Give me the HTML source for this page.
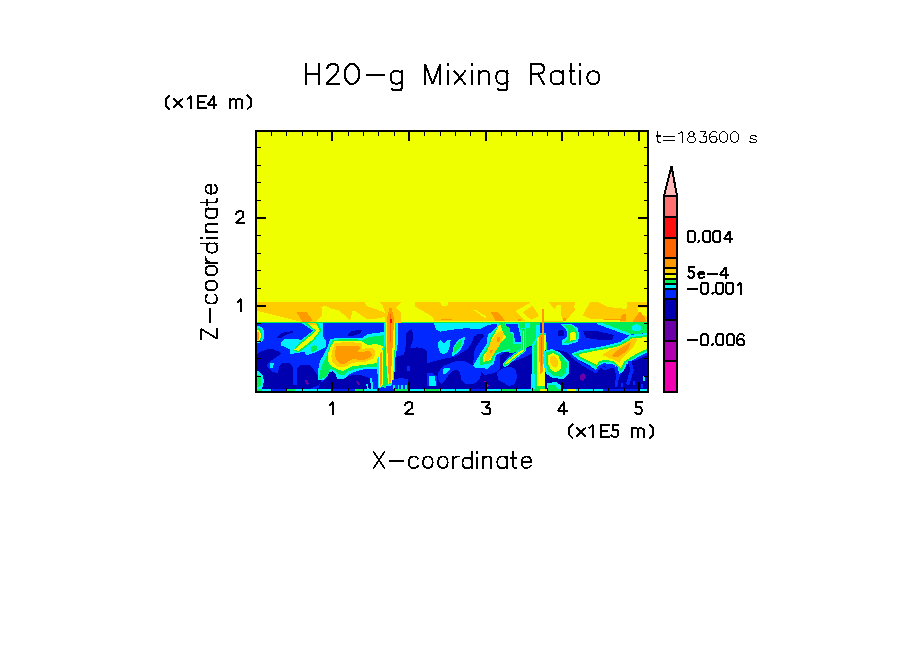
<!DOCTYPE html>
<html><head><meta charset="utf-8"><style>
html,body{margin:0;padding:0;background:#fff;font-family:"Liberation Sans",sans-serif;}
svg{display:block;}
</style></head><body>
<svg width="904" height="654" viewBox="0 0 904 654">
<defs><clipPath id="cp"><rect x="257" y="132" width="390" height="259"/></clipPath></defs>
<rect width="904" height="654" fill="#fff"/>
<g clip-path="url(#cp)" shape-rendering="crispEdges">
<rect fill="#f0ff00" x="257" y="132" width="390" height="259"/>
<rect fill="#ffcc00" x="257" y="302" width="390" height="20.5"/>
<polygon fill="#f0ff00" points="257,310.7 301.5,321.8 301.5,322.5 257,322.5"/>
<polygon fill="#f0ff00" points="316,322.5 317,320 322.5,315.7 321.4,306.8 325.8,305.7 332.4,309 339,310.2 350,320.7 352.3,311.3 355,311 366,318.5 377,318.5 385,317 385,322.5"/>
<polygon fill="#f0ff00" points="355,314.5 366,318.5 355,322.5"/>
<polygon fill="#f0ff00" points="365,302 380,302 383,306 392,310 393.7,302 414.7,302 414.7,306.3 421.4,310.2 432.4,316.8 434.6,320.7 455,320.7 455,322.5 393.7,322.5 393.7,310 385,313 377,309.5 366,306"/>
<polygon fill="#f0ff00" points="440,302 448.6,302 447,305.7 442,305.7"/>
<polygon fill="#f0ff00" points="455,320.7 532,321 532,322.5 455,322.5"/>
<polygon fill="#f0ff00" points="473.8,310 476,310 487,317 485,318"/>
<polygon fill="#f0ff00" points="515.3,311.3 531.3,302 550,302 554.4,309 557.7,304.6 561,305.2 560.5,312.4 563.3,321.2 525.8,321.8 520,316"/>
<polygon fill="#ffcc00" points="522.5,312.4 532.4,305.7 539,315.7 531.3,320"/>
<polygon fill="#ffcc00" points="549,302 554,302 553,308"/>
<polygon fill="#f0ff00" points="563.3,321.2 566.6,320.1 574.9,310.2 574.3,306.3 575,302 589.8,302 589.8,302.4 583.2,314.6 583.2,315.7 589.8,318.5 604.2,319.6 620.8,320.1 620,322.5 563,322.5"/>
<polygon fill="#f0ff00" points="597.6,302 627.4,302 626.3,309 607.5,306.8"/>
<polygon fill="#f0ff00" points="637,308 646.5,308 646.5,315.7 640,315"/>
<polygon fill="#ff9900" points="296.5,312.4 307,312.4 312.5,320.1 309.2,321.8 302.6,321.8"/>
<polygon fill="#ff9900" points="490.4,312 497,312 500,314 505,320.5 495,320.5 493,316"/>
<polygon fill="#ff9900" points="441.3,318.5 452.3,318.5 452.3,319.8 441.3,319.8"/>
<polygon fill="#ff9900" points="619.7,321.2 622,315 626.3,313.5 626.3,321.2"/>
<polygon fill="#ff9900" points="632,322.3 640,311 645,318 646,322.3"/>
<polygon fill="#ff9900" points="604,319 620,319 620,320.3 604,320.3"/>
<polygon fill="#ff9900" points="562.7,318 566,318 566,321 562.7,321"/>
<polygon fill="#ff9900" points="518,319 521.4,319 521.4,321 518,321"/>
<rect fill="#0028ff" x="257" y="322.5" width="390" height="68.5"/>
<rect fill="#00ee55" x="257" y="322.3" width="390" height="1.1"/>
<polygon fill="#0000b0" points="257,354 262,351 267,349.5 273,349.3 279,351.5 281,354 276,357.5 270,361 267,364 267,367 271,371 278,373.5 279,366 282,363 287,362.5 291,364 293,368 293.5,385 296.5,385 297,368 299,366 303,364.5 309,365 313,368 316,373 321,380 322,383 317,386 310,389 257,389"/>
<polygon fill="#0000b0" points="277,337.5 280,334 285,332 293,331.2 293.5,332.5 287,334.5 281,337.8"/>
<polygon fill="#0000b0" points="348,334 352,331 358,330 362,330.5 360,333.5 353,336 348,336.5"/>
<polygon fill="#0000b0" points="393,360 398,356 404,355 406,345 406.5,333 409,330 412,329 413,335 412.5,341 410,348.5 410,389 393,389"/>
<polygon fill="#0028ff" points="406.7,366 410,366 410,371 406.7,371"/>
<ellipse fill="#00f0ff" cx="258.5" cy="334.5" rx="6" ry="8.5" transform="rotate(0 258.5 334.5)"/>
<ellipse fill="#00ee55" cx="258" cy="335" rx="4.5" ry="7.3" transform="rotate(0 258 335)"/>
<ellipse fill="#f0ff00" cx="257.5" cy="335.5" rx="3.5" ry="6" transform="rotate(0 257.5 335.5)"/>
<ellipse fill="#ff9900" cx="257" cy="336" rx="2.2" ry="4.5" transform="rotate(0 257 336)"/>
<polygon fill="#00f0ff" points="300.5,322.5 322.5,322.5 322.9,335 323.6,337 326,341 326,346 324,348 317,351.7 306.3,355.3 304.6,351.7 289.5,354.4 289.5,349 281.5,345.5 281,342 284,339.5 297.5,339 301.2,340 312.8,330.7"/>
<polygon fill="#00ee55" points="303.5,322.5 318,322.5 321.5,330.7 313.5,341.5 305,348 299,352.5 293,350.5 299.5,342.5 303.5,339.5 314.2,330.7"/>
<polygon fill="#f0ff00" points="306.5,322.5 316,322.5 319.8,330.7 312.4,340 304,346.5 298,351 294.5,349.5 301,343.5 305.8,340 315.9,330.7"/>
<polygon fill="#ffcc00" points="307,322.5 315.5,322.5 316.8,325 310,325.5"/>
<ellipse fill="#00ee55" cx="314" cy="348.6" rx="3.5" ry="2.8" transform="rotate(-30 314 348.6)"/>
<polygon fill="#00f0ff" points="270,363.5 274,363 273,368 270.5,368"/>
<polygon fill="#00f0ff" points="257,371 260,372 263,376 264,381 263,386 262,389 257,389"/>
<polygon fill="#00ee55" points="257,375 260,376 261.5,380 261,386 257,387"/>
<polygon fill="#00f0ff" points="330,339 337,338 345,337.5 355,337.5 362,338 368,334 376,333 384,332 386,345 385,360 383,370 375,369 365,369 357,371 350,374 344.5,378.5 336.8,378.5 336,374.5 331,371.5 328,376 323,380 318,380.5 318,370 320.2,360 323.5,355.3 328,346"/>
<polygon fill="#00ee55" points="332.5,339.8 338,339.5 346,339.2 355,339.2 362,340 369,337 377,336 384,335 385,346 384,359 381,367 374,366.5 365,367 356,369 349,371 344.5,375.2 339,375 336,371 330,369 328,374 324,378 318.5,379.7 320,372 323,363 326,357.5 330,345"/>
<polygon fill="#f0ff00" points="334,341.2 340,340.7 350,340.5 362,341.5 368,345 376,344 383,346 384,358 380,362 372,364 362,365 352,366.5 346,369.5 342.3,371 337,369 331,366 328,361 328.5,352 331,346"/>
<polygon fill="#ffcc00" points="335,342.8 345,342.3 352,342.3 361,343 362.5,347 361,350 365,348.5 373,348 375.5,352 374,358 366,361.5 357,362 352,363 347,366 342,367.5 337,366.5 332.5,362 331.3,356 333,348"/>
<polygon fill="#ff9900" points="336.5,346 345,345.5 352,345.5 359,346 360,348 357,352.5 361,352 365,351.5 368,351 371,352 372,355 370,358 365,359.5 357,359.5 352.3,359.2 349,360.8 344.5,364.2 340.1,363.6 336.3,360.3 335.3,356 335.5,350"/>
<polygon fill="#0000b0" points="329,372.5 333,371 336,374.5 336.8,378.5 344.5,378.5 349.2,376 352,375 360,375 369.8,378 372,386.7 375,389 318,389 320,384 324,380 328,376"/>
<polygon fill="#00f0ff" points="384,322.5 398.5,322.5 397.5,345 395,360 394,385 378,388 377,360 384,345"/>
<polygon fill="#00ee55" points="385.5,322.5 396.5,322.5 395.5,345 393.5,370 393,383 379,387 378.5,360 385.5,345"/>
<polygon fill="#ffcc00" points="380,302 401.5,302 396,308 401.5,312.4 401,322.5 385,322.5 385,312 383,306"/>
<polygon fill="#f0ff00" points="386,322.5 395.5,322.5 395,340 393,382 388,384 386,360"/>
<polygon fill="#ff9900" points="389.5,308 391.5,308 393.5,316 394,322.5 393.5,330 391.8,360 390.8,382 389,383 387.8,360 387,340 386.8,322.5 387.5,316"/>
<polygon fill="#ff6600" points="389.8,314 391.5,314 391.3,338 390,345"/>
<polygon fill="#ff1010" points="390,319 392,319 392,322.5 390,322.5"/>
<polygon fill="#f0ff00" points="378.5,351 383,350 382.5,386 379,387"/>
<polygon fill="#ff9900" points="379.5,353 381.8,352 381.5,385 380,386"/>
<polygon fill="#00f0ff" points="433.8,322.5 497,322.5 497,324 488,324.8 480,329.3 466.6,328.2 455.2,329.3 440.5,331.6 436,329.3"/>
<polygon fill="#0000b0" points="410,348.5 416.8,347.4 422.4,348 427,350.8 427,389 410,389"/>
<polygon fill="#0000b0" points="427,363.2 444,358.7 451,357.5 455,356.5 462,352.5 468,348.5 471,344 473,339.5 474,336.5 477,334.5 482,333.5 484,336 480,341 476.5,346 474,352 473.7,358 473,364 470,367 464,367 460,366 455.2,362.1 444,365.5 438,368 432,370 427,372"/>
<polygon fill="#0000b0" points="427,372 432,370 438,368 444,365.5 455,361.5 464,361 473,364 478,362 484,360 490,360 497,358 505,352 510,351 520,349 530,346 536,344 545,344 545,389 427,389"/>
<polygon fill="#0028ff" points="438.3,380 438.3,372 444,365.5 455,361.5 464,361 468,363 476,366.5 480,367 481.5,372 480,378 476,383 470,384.5 465,384 461.5,380 460,373 457,369.5 452,371 448,376 444,382 441,384"/>
<polygon fill="#0028ff" points="476,366 481,360 487,358 494,357 500,355 500,368 496,372 490,374 484,375 481,372"/>
<polygon fill="#0028ff" points="536,345 538,350 527,356 519,359.5 511,362 505,364 503.8,362 508,356 513,353 521,350 530,347"/>
<polygon fill="#0028ff" points="497,372 502,369 507,367 512,367.5 516,370 517,377 515,384 509,386 504,383 498,380"/>
<polygon fill="#00f0ff" points="438.3,342 441,340 444,343.5 447,340 450.7,339.5 450,346 447.5,352 444,354.2 440.5,353 438.5,348"/>
<polygon fill="#00f0ff" points="451.9,356.5 453,348 457,341 462,338 465.4,336.1 464,343 461,349 456,354"/>
<polygon fill="#00ee55" points="453.5,354 454.5,347 458,342 462,339.5 461,346 457,351"/>
<polygon fill="#00f0ff" points="442.8,369 446,367.5 450.7,367.8 448,372 445,374.6 442.8,373"/>
<polygon fill="#0028ff" points="427,373.4 432,373 437,376 437,386 427,386"/>
<polygon fill="#00f0ff" points="428.5,376 435,376 436,386 429,386"/>
<polygon fill="#00ee55" points="497,323.4 540,323.4 540,347 530,346 521,350 513,353 505,352 497,352"/>
<polygon fill="#00f0ff" points="524.5,323.4 530,323.4 530,327.6 525.2,327.6"/>
<polygon fill="#00f0ff" points="535.5,324.6 540,324.6 540,345.2 535.9,345.2"/>
<polygon fill="#00f0ff" points="504.5,323.4 519,323.4 520.5,330 523.5,343.5 513.5,343.5 512.5,334 504.5,331.5"/>
<polygon fill="#0028ff" points="506,323.8 517.5,323.8 519,330 522,342 515,342 514,333 506,330"/>
<polyline fill="none" stroke="#00f0ff" stroke-width="5" stroke-linejoin="round" stroke-linecap="round" points="523.5,330 523.5,350 515,356 505.3,364.3"/>
<polyline fill="none" stroke="#00ee55" stroke-width="3.2" stroke-linejoin="round" stroke-linecap="round" points="523.5,330 523.5,350 515,356 505.3,364.3"/>
<polyline fill="none" stroke="#f0ff00" stroke-width="1.8" stroke-linejoin="round" stroke-linecap="round" points="523.5,331.5 523.5,350 515,356 506,363.5"/>
<polygon fill="#00f0ff" points="497,323.4 503.7,323.4 506,326 510,330 510,351.1 502,351.9 496.1,355.3 493.6,363.7 487.7,368.7 475.1,367.9 473.4,365.4 479.3,355.3 486.9,343.5 487.7,335.1 497,326.7"/>
<polygon fill="#00ee55" points="499,323.4 503,323.4 510,328.4 510,348.6 503.7,350.3 495.3,353.6 491.9,362.9 480.2,365.4 480.2,357.8 488.6,345.2 490.3,336.8 497,328"/>
<polygon fill="#f0ff00" points="500.3,324 502,330.1 506.2,337.6 503.7,339.3 497,347.7 490.3,360.3 482.7,362 482.7,357 489.4,347.7 491.1,339.3 496,331 499,325"/>
<polygon fill="#ffcc00" points="491,341 497,333 501.5,330.5 504,334 502,341 497,349 492,357 486.5,361.5 484.5,360 487,351"/>
<polygon fill="#ff9900" points="496.5,336.5 500,337 499.5,341.5 497,342"/>
<polygon fill="#ff9900" points="490.3,349.5 492.8,350 492,352.8 490,352.5"/>
<polygon fill="#00f0ff" points="532,345 539,333 547,333 548,389 532,389"/>
<polygon fill="#00ee55" points="534,346 539.5,334 546.5,334 546.5,389 534.5,389"/>
<polygon fill="#f0ff00" points="536.5,340 539.5,335 546,335 545.5,386 537,386"/>
<polygon fill="#ff9900" points="538.5,335 544,335 543.5,355 543,372 540,374 539.2,355"/>
<polygon fill="#ff6600" points="540.5,337 542.5,337 542,366 541,366"/>
<polygon fill="#ff9900" points="541.8,309 543.6,309 543.6,336 541.8,336"/>
<polygon fill="#0000b0" points="545,350 558,350 566,352 571,356 578,359 578,389 545,389"/>
<polygon fill="#0028ff" points="545.6,322.5 559,322.5 561,326 566,330 567,336 561,340 555,344.5 548,346 545.6,340"/>
<ellipse fill="#0000b0" cx="561" cy="333.2" rx="3.5" ry="3" transform="rotate(0 561 333.2)"/>
<polygon fill="#00f0ff" points="561,324 571,323.5 577.5,328 579.5,336 577.5,342 569,344.5 562,344.5 562,340.5 566.5,337 566.5,330.5"/>
<polygon fill="#00ee55" points="564,325 571,324.8 576,329 578,336 576,340.5 569,342.8 564,342.5 568.3,338 568.3,330"/>
<polygon fill="#f0ff00" points="570,332.7 574.5,331.5 576.5,335 575.5,340 570.5,340.6"/>
<polygon fill="#00f0ff" points="544,351 552,349 561,353 569,362 569,374 563,379 553,378 546,374 543,362"/>
<polygon fill="#00ee55" points="545.6,352 553.5,350.8 561.4,355.3 567.1,363.2 566,372.3 561.4,376.8 553.5,375.7 547.9,371.2 545.6,363.2"/>
<polygon fill="#f0ff00" points="547.9,355.3 553.5,353 558,355.3 561.4,363.2 560.3,370 554.7,372.3 550.1,368.9 547.9,363.2"/>
<polygon fill="#ffcc00" points="550,357 554,355.5 557,358 558.5,364 556,368 552,366 550,362"/>
<polygon fill="#0000b0" points="583,331 595,330.5 614,335 612,340 600,340 586,338"/>
<polygon fill="#00ee55" points="599,322.5 647,322.5 647,333 631,334.5"/>
<polygon fill="#00f0ff" points="596,322.5 601,322.5 631.5,334 630,336 598,324.5"/>
<ellipse fill="#00f0ff" cx="636.5" cy="327.8" rx="4.5" ry="3.5" transform="rotate(0 636.5 327.8)"/>
<polygon fill="#0000b0" points="578,359 596.5,371 601,366 614,367.8 618.9,378 623.4,370 630.2,362 637,359.8 647,355.3 647,389 578,389"/>
<polygon fill="#00f0ff" points="571,354 578.8,350.5 596.5,347.4 609.8,344.7 619.6,342.1 626.6,337.7 630.2,335 647,333 647,352.7 639,356.2 635.5,358.9 632,360.7 626.6,364.2 623.1,372.2 619.6,373.9 617.8,368.6 612.5,364.2 603.6,363.3 600,365.1 596.5,370.4 587.7,364.2 578.8,359.8"/>
<polygon fill="#00ee55" points="574,354.3 580,352 597,349 610.5,346.3 620.5,343.7 627.5,339.5 631,337 647,335 647,351 638.5,354.7 635,357.3 631,359.3 625.3,363 622,370 620,371 618.8,367.5 613,362.6 603.6,361.7 599.5,363.3 596.5,367.7 588.5,362.5 580,358.3"/>
<polygon fill="#f0ff00" points="578,354.8 582,353.5 597.5,350.5 611,348 621,345.3 628,341 632,338.5 647,337 647,349 637.5,353 634,355.5 630,357.5 624,361.5 621,367.5 619.8,368 619,366 613.5,361 603.6,360 599,361.5 596.5,365 589.5,361 581,357"/>
<polygon fill="#ffcc00" points="602,355 610,350 620,346.5 628,341 634,337.7 637.3,339 634,346 628,352 622,358 619.5,363 615,360.5 608,357.5"/>
<polygon fill="#ff9900" points="611.6,355.4 618,350 625,345.5 631,342 629,348 624,353 619,356.5 614,357.5"/>
<polyline fill="none" stroke="#0028ff" stroke-width="2.5" stroke-linejoin="round" stroke-linecap="round" points="572,356.5 583,364.5 596,372 600,366 605,369 614,366"/>
<polyline fill="none" stroke="#0028ff" stroke-width="3" stroke-linejoin="round" stroke-linecap="round" points="616.5,368 617.5,377 616,386"/>
<polyline fill="none" stroke="#0028ff" stroke-width="3.5" stroke-linejoin="round" stroke-linecap="round" points="630,362.5 632,370 628,383"/>
<polygon fill="#6c00a8" points="579.7,375 584,373 586,377 583,381 580,380"/>
<polygon fill="#6c00a8" points="304.6,380 307,380.5 309,384 307.5,385 305.5,382"/>
<polygon fill="#6c00a8" points="356,381 358,381 360,384.5 358,384.5"/>
<polygon fill="#b000b0" points="484,381 486,381 489,386 487,387"/>
<polyline fill="none" stroke="#00f0ff" stroke-width="2" stroke-linejoin="round" stroke-linecap="round" points="371,379 372.5,389"/>
<polyline fill="none" stroke="#00f0ff" stroke-width="1.5" stroke-linejoin="round" stroke-linecap="round" points="367,385 368,389"/>
<polygon fill="#0028ff" points="392,380 400,378 408,379 410,389 392,389"/>
<rect fill="#00f0ff" x="393" y="384.5" width="1.6" height="4.8"/>
<rect fill="#00f0ff" x="397.5" y="384.5" width="1.6" height="4.8"/>
<rect fill="#00f0ff" x="401" y="384.5" width="1.6" height="4.8"/>
<rect fill="#00f0ff" x="405" y="384.5" width="1.6" height="4.8"/>
<rect fill="#00ee55" x="384" y="362" width="1.5" height="26"/>
<rect fill="#00f0ff" x="531" y="374" width="1.5" height="15.3"/>
<rect fill="#00f0ff" x="533.5" y="374" width="1.5" height="15.3"/>
<rect fill="#00ee55" x="535" y="380" width="1.5" height="9.3"/>
<rect fill="#0028ff" x="621" y="383" width="1.5" height="4"/>
<rect fill="#0028ff" x="633" y="381" width="1.5" height="4"/>
<rect fill="#0028ff" x="641" y="384" width="1.5" height="4"/>
<rect fill="#00f0ff" x="643" y="376" width="2" height="5"/>
<polygon fill="#00f0ff" points="547,383 556,382 561,385 561,389.3 547,389.3"/>
<polygon fill="#00ee55" points="548,385.5 555,384.5 558,389.3 548,389.3"/>
<rect fill="#00ee55" x="257" y="389.3" width="5" height="1.7"/>
<rect fill="#00f0ff" x="262" y="389.3" width="10" height="1.7"/>
<rect fill="#0028ff" x="272" y="389.3" width="15" height="1.7"/>
<rect fill="#00ee55" x="287" y="389.3" width="8" height="1.7"/>
<rect fill="#00f0ff" x="295" y="389.3" width="36" height="1.7"/>
<rect fill="#0028ff" x="331" y="389.3" width="24" height="1.7"/>
<rect fill="#00ee55" x="355" y="389.3" width="8" height="1.7"/>
<rect fill="#00f0ff" x="363" y="389.3" width="14" height="1.7"/>
<rect fill="#0028ff" x="377" y="389.3" width="18" height="1.7"/>
<rect fill="#00ee55" x="395" y="389.3" width="13" height="1.7"/>
<rect fill="#00f0ff" x="408" y="389.3" width="16" height="1.7"/>
<rect fill="#00ee55" x="424" y="389.3" width="15" height="1.7"/>
<rect fill="#00f0ff" x="439" y="389.3" width="16" height="1.7"/>
<rect fill="#00f0ff" x="455" y="389.3" width="14" height="1.7"/>
<rect fill="#0028ff" x="469" y="389.3" width="18" height="1.7"/>
<rect fill="#00f0ff" x="487" y="389.3" width="14.5" height="1.7"/>
<rect fill="#00ee55" x="501.5" y="389.3" width="15.5" height="1.7"/>
<rect fill="#00f0ff" x="517" y="389.3" width="15" height="1.7"/>
<rect fill="#00ee55" x="532" y="389.3" width="8" height="1.7"/>
<rect fill="#f0ff00" x="540" y="389.3" width="7" height="1.7"/>
<rect fill="#00ee55" x="547" y="389.3" width="14" height="1.7"/>
<rect fill="#00f0ff" x="561" y="389.3" width="6" height="1.7"/>
<rect fill="#f0ff00" x="567" y="389.3" width="9" height="1.7"/>
<rect fill="#00f0ff" x="576" y="389.3" width="27" height="1.7"/>
<rect fill="#0028ff" x="603" y="389.3" width="36" height="1.7"/>
<rect fill="#00f0ff" x="639" y="389.3" width="8" height="1.7"/>
</g>
<g fill="#000" shape-rendering="crispEdges">
<rect x="255" y="130" width="394" height="2"/>
<rect x="255" y="391" width="394" height="2"/>
<rect x="255" y="130" width="2" height="263"/>
<rect x="647" y="130" width="2" height="263"/>
<rect x="331" y="132" width="2" height="9"/>
<rect x="331" y="382" width="2" height="9"/>
<rect x="408" y="132" width="2" height="9"/>
<rect x="408" y="382" width="2" height="9"/>
<rect x="485" y="132" width="2" height="9"/>
<rect x="485" y="382" width="2" height="9"/>
<rect x="561" y="132" width="2" height="9"/>
<rect x="561" y="382" width="2" height="9"/>
<rect x="638" y="132" width="2" height="9"/>
<rect x="638" y="382" width="2" height="9"/>
<rect x="271" y="132" width="1" height="4"/>
<rect x="271" y="388" width="1" height="3"/>
<rect x="286" y="132" width="1" height="4"/>
<rect x="286" y="388" width="1" height="3"/>
<rect x="302" y="132" width="1" height="4"/>
<rect x="302" y="388" width="1" height="3"/>
<rect x="317" y="132" width="1" height="4"/>
<rect x="317" y="388" width="1" height="3"/>
<rect x="348" y="132" width="1" height="4"/>
<rect x="348" y="388" width="1" height="3"/>
<rect x="363" y="132" width="1" height="4"/>
<rect x="363" y="388" width="1" height="3"/>
<rect x="378" y="132" width="1" height="4"/>
<rect x="378" y="388" width="1" height="3"/>
<rect x="394" y="132" width="1" height="4"/>
<rect x="394" y="388" width="1" height="3"/>
<rect x="424" y="132" width="1" height="4"/>
<rect x="424" y="388" width="1" height="3"/>
<rect x="440" y="132" width="1" height="4"/>
<rect x="440" y="388" width="1" height="3"/>
<rect x="455" y="132" width="1" height="4"/>
<rect x="455" y="388" width="1" height="3"/>
<rect x="470" y="132" width="1" height="4"/>
<rect x="470" y="388" width="1" height="3"/>
<rect x="501" y="132" width="1" height="4"/>
<rect x="501" y="388" width="1" height="3"/>
<rect x="516" y="132" width="1" height="4"/>
<rect x="516" y="388" width="1" height="3"/>
<rect x="532" y="132" width="1" height="4"/>
<rect x="532" y="388" width="1" height="3"/>
<rect x="547" y="132" width="1" height="4"/>
<rect x="547" y="388" width="1" height="3"/>
<rect x="578" y="132" width="1" height="4"/>
<rect x="578" y="388" width="1" height="3"/>
<rect x="593" y="132" width="1" height="4"/>
<rect x="593" y="388" width="1" height="3"/>
<rect x="608" y="132" width="1" height="4"/>
<rect x="608" y="388" width="1" height="3"/>
<rect x="624" y="132" width="1" height="4"/>
<rect x="624" y="388" width="1" height="3"/>
<rect x="257" y="305" width="9" height="2"/>
<rect x="638" y="305" width="9" height="2"/>
<rect x="257" y="217" width="9" height="2"/>
<rect x="638" y="217" width="9" height="2"/>
<rect x="257" y="147" width="4" height="1"/>
<rect x="644" y="147" width="3" height="1"/>
<rect x="257" y="165" width="4" height="1"/>
<rect x="644" y="165" width="3" height="1"/>
<rect x="257" y="182" width="4" height="1"/>
<rect x="644" y="182" width="3" height="1"/>
<rect x="257" y="200" width="4" height="1"/>
<rect x="644" y="200" width="3" height="1"/>
<rect x="257" y="235" width="4" height="1"/>
<rect x="644" y="235" width="3" height="1"/>
<rect x="257" y="253" width="4" height="1"/>
<rect x="644" y="253" width="3" height="1"/>
<rect x="257" y="270" width="4" height="1"/>
<rect x="644" y="270" width="3" height="1"/>
<rect x="257" y="288" width="4" height="1"/>
<rect x="644" y="288" width="3" height="1"/>
<rect x="257" y="323" width="4" height="1"/>
<rect x="644" y="323" width="3" height="1"/>
<rect x="257" y="341" width="4" height="1"/>
<rect x="644" y="341" width="3" height="1"/>
<rect x="257" y="358" width="4" height="1"/>
<rect x="644" y="358" width="3" height="1"/>
<rect x="257" y="376" width="4" height="1"/>
<rect x="644" y="376" width="3" height="1"/>
</g>
<g shape-rendering="crispEdges"><rect x="663" y="195" width="15" height="198" fill="#000"/>
<rect x="665" y="197" width="11" height="19" fill="#ff7070"/>
<rect x="665" y="218" width="11" height="19" fill="#ff1010"/>
<rect x="665" y="239" width="11" height="18" fill="#ff6600"/>
<rect x="665" y="259" width="11" height="8" fill="#ff9900"/>
<rect x="665" y="269" width="11" height="4" fill="#ffcc00"/>
<rect x="665" y="275" width="11" height="3" fill="#f0ff00"/>
<rect x="665" y="280" width="11" height="3" fill="#00ee55"/>
<rect x="665" y="285" width="11" height="3" fill="#00f0ff"/>
<rect x="665" y="290" width="11" height="8" fill="#0028ff"/>
<rect x="665" y="300" width="11" height="19" fill="#0000b0"/>
<rect x="665" y="321" width="11" height="19" fill="#6c00a8"/>
<rect x="665" y="342" width="11" height="18" fill="#b000b0"/>
<rect x="665" y="362" width="11" height="29" fill="#f000b0"/>
<polygon points="664,196 671.5,166 677,196" fill="#ffb8b8" stroke="#000" stroke-width="2" stroke-linejoin="miter" stroke-miterlimit="3"/></g>
<g fill="none" stroke="#000" stroke-width="2" stroke-linecap="square" stroke-linejoin="miter" stroke-miterlimit="2" shape-rendering="crispEdges" ><path vector-effect="non-scaling-stroke" transform="translate(306.3,64) scale(0.2)" d="M0 0V100M63 0V100M0 50H63"/><path vector-effect="non-scaling-stroke" transform="translate(326.2,64) scale(0.2)" d="M5 22C8 8 18 0 32 0C50 0 61 9 61 24C61 34 56 41 49 48L0 100H64"/><path vector-effect="non-scaling-stroke" transform="translate(344.8,64) scale(0.2)" d="M36 0C58 0 72 22 72 50C72 78 58 100 36 100C14 100 0 78 0 50C0 22 14 0 36 0Z"/><path vector-effect="non-scaling-stroke" transform="translate(367.4,64) scale(0.2)" d="M0 56H83"/><path vector-effect="non-scaling-stroke" transform="translate(390.6,64) scale(0.2)" d="M56 36V118C56 127 50 132 42 132H16L9 125M56 46C52 39 45 36 37 36H22C9 36 0 47 0 66C0 85 9 98 22 98H37C45 98 52 94 56 87"/><path vector-effect="non-scaling-stroke" transform="translate(425,64) scale(0.2)" d="M0 100V0L38 100L76 0V100"/><path vector-effect="non-scaling-stroke" transform="translate(448.2,64) scale(0.2)" d="M0 36V100M0 0V5"/><path vector-effect="non-scaling-stroke" transform="translate(454.5,64) scale(0.2)" d="M0 36L53 100M53 36L0 100"/><path vector-effect="non-scaling-stroke" transform="translate(472.4,64) scale(0.2)" d="M0 36V100M0 0V5"/><path vector-effect="non-scaling-stroke" transform="translate(479,64) scale(0.2)" d="M0 36V100M0 52C5 41 14 36 25 36H32C43 36 50 44 50 55V100"/><path vector-effect="non-scaling-stroke" transform="translate(496.3,64) scale(0.2)" d="M56 36V118C56 127 50 132 42 132H16L9 125M56 46C52 39 45 36 37 36H22C9 36 0 47 0 66C0 85 9 98 22 98H37C45 98 52 94 56 87"/><path vector-effect="non-scaling-stroke" transform="translate(531.2,64) scale(0.2)" d="M0 100V0H42C56 0 63 10 63 24C63 38 56 48 42 48H0M34 48L63 100"/><path vector-effect="non-scaling-stroke" transform="translate(550.5,64) scale(0.2)" d="M60 36V100M60 50C56 41 48 36 38 36H24C10 36 0 49 0 68C0 87 10 100 24 100H38C48 100 56 95 60 86"/><path vector-effect="non-scaling-stroke" transform="translate(569.5,64) scale(0.2)" d="M8 0V86C8 96 12 100 20 100H26M0 36H24"/><path vector-effect="non-scaling-stroke" transform="translate(580.4,64) scale(0.2)" d="M0 36V100M0 0V5"/><path vector-effect="non-scaling-stroke" transform="translate(587.3,64) scale(0.2)" d="M30 36C48 36 60 48 60 68C60 88 48 100 30 100C12 100 0 88 0 68C0 48 12 36 30 36Z"/></g>
<g fill="none" stroke="#000" stroke-width="2" stroke-linecap="square" stroke-linejoin="miter" stroke-miterlimit="2" shape-rendering="crispEdges" ><path vector-effect="non-scaling-stroke" transform="translate(165.8,96) scale(0.12)" d="M29 -2L0 26V80L29 108"/><path vector-effect="non-scaling-stroke" transform="translate(173.8,96) scale(0.12)" d="M0 26L71 92M71 26L0 92"/><path vector-effect="non-scaling-stroke" transform="translate(187.9,96) scale(0.12)" d="M0 22L26 0V100"/><path vector-effect="non-scaling-stroke" transform="translate(197.8,96) scale(0.12)" d="M67 0H0V100H67M0 50H50"/><path vector-effect="non-scaling-stroke" transform="translate(207.8,96) scale(0.12)" d="M52 100V0L0 72H72"/><path vector-effect="non-scaling-stroke" transform="translate(230.2,96) scale(0.12)" d="M0 29V100M0 40C3 32 8 29 15 29H40C46 29 49 33 49 40V100M49 40C49 33 53 29 60 29H89C96 29 100 33 100 41V100"/><path vector-effect="non-scaling-stroke" transform="translate(247.6,96) scale(0.12)" d="M0 -2L29 26V80L0 108"/></g>
<g fill="none" stroke="#000" stroke-width="2" stroke-linecap="square" stroke-linejoin="miter" stroke-miterlimit="2" shape-rendering="crispEdges" ><path vector-effect="non-scaling-stroke" transform="translate(569,425) scale(0.12)" d="M29 -2L0 26V80L29 108"/><path vector-effect="non-scaling-stroke" transform="translate(576.8,425) scale(0.12)" d="M0 26L71 92M71 26L0 92"/><path vector-effect="non-scaling-stroke" transform="translate(589.8,425) scale(0.12)" d="M0 22L26 0V100"/><path vector-effect="non-scaling-stroke" transform="translate(600.8,425) scale(0.12)" d="M67 0H0V100H67M0 50H50"/><path vector-effect="non-scaling-stroke" transform="translate(611.7,425) scale(0.12)" d="M56 0H8V45C14 41 22 40 30 40C46 40 56 50 56 68C56 88 46 100 28 100C14 100 6 96 0 88"/><path vector-effect="non-scaling-stroke" transform="translate(631.7,425) scale(0.12)" d="M0 29V100M0 40C3 32 8 29 15 29H40C46 29 49 33 49 40V100M49 40C49 33 53 29 60 29H89C96 29 100 33 100 41V100"/><path vector-effect="non-scaling-stroke" transform="translate(650,425) scale(0.12)" d="M0 -2L29 26V80L0 108"/></g>
<g fill="none" stroke="#000" stroke-width="1.1" stroke-linecap="square" stroke-linejoin="miter" stroke-miterlimit="2" shape-rendering="crispEdges" ><path vector-effect="non-scaling-stroke" transform="translate(656.25,131.6) scale(0.11)" d="M14 0V84C14 94 20 100 30 100H40M0 40H40"/><path vector-effect="non-scaling-stroke" transform="translate(663.45,131.6) scale(0.11)" d="M0 48H96M0 78H96"/><path vector-effect="non-scaling-stroke" transform="translate(678.55,131.6) scale(0.11)" d="M0 20L32 0V100"/><path vector-effect="non-scaling-stroke" transform="translate(687.55,131.6) scale(0.11)" d="M36 0C52 0 60 8 60 22C60 36 50 44 36 44C22 44 12 36 12 22C12 8 20 0 36 0ZM36 44C56 44 72 54 72 72C72 90 58 100 36 100C14 100 0 90 0 72C0 54 16 44 36 44Z"/><path vector-effect="non-scaling-stroke" transform="translate(698.95,131.6) scale(0.11)" d="M14 2H66L38 40H44C62 40 72 52 72 68C72 88 60 100 40 100C24 100 10 96 0 86"/><path vector-effect="non-scaling-stroke" transform="translate(709.35,131.6) scale(0.11)" d="M66 8C60 2 52 0 42 0C16 0 2 20 2 52C2 82 14 100 38 100C58 100 70 88 70 70C70 52 58 42 38 42C22 42 10 48 2 60"/><path vector-effect="non-scaling-stroke" transform="translate(719.55,131.6) scale(0.11)" d="M36 0C56 0 72 22 72 50C72 78 56 100 36 100C16 100 0 78 0 50C0 22 16 0 36 0Z"/><path vector-effect="non-scaling-stroke" transform="translate(730.55,131.6) scale(0.11)" d="M36 0C56 0 72 22 72 50C72 78 56 100 36 100C16 100 0 78 0 50C0 22 16 0 36 0Z"/><path vector-effect="non-scaling-stroke" transform="translate(749.45,131.6) scale(0.11)" d="M60 42C54 36 46 34 34 34C18 34 8 40 8 52C8 62 16 66 34 68C54 70 66 74 66 86C66 96 54 100 36 100C20 100 8 96 0 88"/></g>
<g fill="none" stroke="#000" stroke-width="2" stroke-linecap="square" stroke-linejoin="miter" stroke-miterlimit="2" shape-rendering="crispEdges" ><path vector-effect="non-scaling-stroke" transform="translate(330,402) scale(0.12)" d="M0 22L26 0V100"/></g>
<g fill="none" stroke="#000" stroke-width="2" stroke-linecap="square" stroke-linejoin="miter" stroke-miterlimit="2" shape-rendering="crispEdges" ><path vector-effect="non-scaling-stroke" transform="translate(405,402) scale(0.12)" d="M4 27V16L12 6H22L28 0H42L58 10V48L0 100H67"/></g>
<g fill="none" stroke="#000" stroke-width="2" stroke-linecap="square" stroke-linejoin="miter" stroke-miterlimit="2" shape-rendering="crispEdges" ><path vector-effect="non-scaling-stroke" transform="translate(482,402) scale(0.12)" d="M4 2H62V10L32 46H40C56 46 68 54 68 70V80C68 92 58 100 46 100H24C14 100 6 96 0 88"/></g>
<g fill="none" stroke="#000" stroke-width="2" stroke-linecap="square" stroke-linejoin="miter" stroke-miterlimit="2" shape-rendering="crispEdges" ><path vector-effect="non-scaling-stroke" transform="translate(558,402) scale(0.12)" d="M52 100V0L0 72H72"/></g>
<g fill="none" stroke="#000" stroke-width="2" stroke-linecap="square" stroke-linejoin="miter" stroke-miterlimit="2" shape-rendering="crispEdges" ><path vector-effect="non-scaling-stroke" transform="translate(635,402) scale(0.12)" d="M56 0H8V45C14 41 22 40 30 40C46 40 56 50 56 68C56 88 46 100 28 100C14 100 6 96 0 88"/></g>
<g fill="none" stroke="#000" stroke-width="2" stroke-linecap="square" stroke-linejoin="miter" stroke-miterlimit="2" shape-rendering="crispEdges" ><path vector-effect="non-scaling-stroke" transform="translate(236,211) scale(0.12)" d="M4 27V16L12 6H22L28 0H42L58 10V48L0 100H67"/></g>
<g fill="none" stroke="#000" stroke-width="2" stroke-linecap="square" stroke-linejoin="miter" stroke-miterlimit="2" shape-rendering="crispEdges" ><path vector-effect="non-scaling-stroke" transform="translate(238,299) scale(0.12)" d="M0 22L26 0V100"/></g>
<g fill="none" stroke="#000" stroke-width="2" stroke-linecap="square" stroke-linejoin="miter" stroke-miterlimit="2" shape-rendering="crispEdges" ><path vector-effect="non-scaling-stroke" transform="translate(687.9,231) scale(0.11)" d="M20 0H44C56 0 64 14 64 30V70C64 86 56 100 44 100H20C8 100 0 86 0 70V30C0 14 8 0 20 0Z"/><path vector-effect="non-scaling-stroke" transform="translate(698.2,231) scale(0.11)" d="M2 100L10 90"/><path vector-effect="non-scaling-stroke" transform="translate(703.1,231) scale(0.11)" d="M20 0H44C56 0 64 14 64 30V70C64 86 56 100 44 100H20C8 100 0 86 0 70V30C0 14 8 0 20 0Z"/><path vector-effect="non-scaling-stroke" transform="translate(713.2,231) scale(0.11)" d="M20 0H44C56 0 64 14 64 30V70C64 86 56 100 44 100H20C8 100 0 86 0 70V30C0 14 8 0 20 0Z"/><path vector-effect="non-scaling-stroke" transform="translate(724.1,231) scale(0.11)" d="M52 100V0L0 72H72"/></g>
<g fill="none" stroke="#000" stroke-width="2" stroke-linecap="square" stroke-linejoin="miter" stroke-miterlimit="2" shape-rendering="crispEdges" ><path vector-effect="non-scaling-stroke" transform="translate(688.1,266.9) scale(0.11)" d="M56 0H8V45C14 41 22 40 30 40C46 40 56 50 56 68C56 88 46 100 28 100C14 100 6 96 0 88"/><path vector-effect="non-scaling-stroke" transform="translate(698.4,266.9) scale(0.11)" d="M0 66H50C50 50 42 42 26 42C10 42 0 52 0 70C0 88 10 100 26 100C38 100 46 96 50 90"/><path vector-effect="non-scaling-stroke" transform="translate(708,266.9) scale(0.11)" d="M0 65H82"/><path vector-effect="non-scaling-stroke" transform="translate(720,266.9) scale(0.11)" d="M52 100V0L0 72H72"/></g>
<g fill="none" stroke="#000" stroke-width="2" stroke-linecap="square" stroke-linejoin="miter" stroke-miterlimit="2" shape-rendering="crispEdges" ><path vector-effect="non-scaling-stroke" transform="translate(688.1,282.7) scale(0.11)" d="M0 54H82"/><path vector-effect="non-scaling-stroke" transform="translate(701.1,282.7) scale(0.11)" d="M20 0H44C56 0 64 14 64 30V70C64 86 56 100 44 100H20C8 100 0 86 0 70V30C0 14 8 0 20 0Z"/><path vector-effect="non-scaling-stroke" transform="translate(712.1,282.7) scale(0.11)" d="M2 100L10 90"/><path vector-effect="non-scaling-stroke" transform="translate(716.2,282.7) scale(0.11)" d="M20 0H44C56 0 64 14 64 30V70C64 86 56 100 44 100H20C8 100 0 86 0 70V30C0 14 8 0 20 0Z"/><path vector-effect="non-scaling-stroke" transform="translate(726.2,282.7) scale(0.11)" d="M20 0H44C56 0 64 14 64 30V70C64 86 56 100 44 100H20C8 100 0 86 0 70V30C0 14 8 0 20 0Z"/><path vector-effect="non-scaling-stroke" transform="translate(737.8,282.7) scale(0.11)" d="M0 22L26 0V100"/></g>
<g fill="none" stroke="#000" stroke-width="2" stroke-linecap="square" stroke-linejoin="miter" stroke-miterlimit="2" shape-rendering="crispEdges" ><path vector-effect="non-scaling-stroke" transform="translate(688.1,334.2) scale(0.11)" d="M0 54H82"/><path vector-effect="non-scaling-stroke" transform="translate(700.9,334.2) scale(0.11)" d="M20 0H44C56 0 64 14 64 30V70C64 86 56 100 44 100H20C8 100 0 86 0 70V30C0 14 8 0 20 0Z"/><path vector-effect="non-scaling-stroke" transform="translate(712,334.2) scale(0.11)" d="M2 100L10 90"/><path vector-effect="non-scaling-stroke" transform="translate(716.4,334.2) scale(0.11)" d="M20 0H44C56 0 64 14 64 30V70C64 86 56 100 44 100H20C8 100 0 86 0 70V30C0 14 8 0 20 0Z"/><path vector-effect="non-scaling-stroke" transform="translate(727,334.2) scale(0.11)" d="M20 0H44C56 0 64 14 64 30V70C64 86 56 100 44 100H20C8 100 0 86 0 70V30C0 14 8 0 20 0Z"/><path vector-effect="non-scaling-stroke" transform="translate(737.2,334.2) scale(0.11)" d="M60 10C55 3 48 0 38 0H28C12 0 0 16 0 45V70C0 88 12 100 30 100H36C54 100 64 90 64 72C64 56 54 46 36 46H28C14 46 4 52 0 62"/></g>
<g fill="none" stroke="#000" stroke-width="1.8" stroke-linecap="square" stroke-linejoin="miter" stroke-miterlimit="2" shape-rendering="crispEdges" ><path vector-effect="non-scaling-stroke" transform="translate(373.7,452) scale(0.16)" d="M0 0L66 100M66 0L0 100"/><path vector-effect="non-scaling-stroke" transform="translate(390.2,452) scale(0.16)" d="M0 56H83"/><path vector-effect="non-scaling-stroke" transform="translate(408.9,468) scale(0.16,0.18) translate(0,-100)" d="M56 47C51 40 43 36 34 36H26C10 36 0 49 0 68C0 87 10 100 26 100H34C43 100 51 96 56 89"/><path vector-effect="non-scaling-stroke" transform="translate(423.1,468) scale(0.16,0.18) translate(0,-100)" d="M30 36C48 36 60 48 60 68C60 88 48 100 30 100C12 100 0 88 0 68C0 48 12 36 30 36Z"/><path vector-effect="non-scaling-stroke" transform="translate(438.1,468) scale(0.16,0.18) translate(0,-100)" d="M30 36C48 36 60 48 60 68C60 88 48 100 30 100C12 100 0 88 0 68C0 48 12 36 30 36Z"/><path vector-effect="non-scaling-stroke" transform="translate(452.7,468) scale(0.16,0.18) translate(0,-100)" d="M0 36V100M0 62C6 44 18 36 30 36H38"/><path vector-effect="non-scaling-stroke" transform="translate(462.5,452) scale(0.16)" d="M58 0V100M58 50C54 41 46 36 36 36H24C10 36 0 49 0 68C0 87 10 100 24 100H36C46 100 54 95 58 86"/><path vector-effect="non-scaling-stroke" transform="translate(477.2,452) scale(0.16)" d="M0 36V100M0 0V5"/><path vector-effect="non-scaling-stroke" transform="translate(483.2,468) scale(0.16,0.18) translate(0,-100)" d="M0 36V100M0 52C5 41 14 36 25 36H32C43 36 50 44 50 55V100"/><path vector-effect="non-scaling-stroke" transform="translate(497.3,468) scale(0.16,0.18) translate(0,-100)" d="M60 36V100M60 50C56 41 48 36 38 36H24C10 36 0 49 0 68C0 87 10 100 24 100H38C48 100 56 95 60 86"/><path vector-effect="non-scaling-stroke" transform="translate(510.9,452) scale(0.16)" d="M14 0V86C14 96 18 100 26 100H34M0 36H30"/><path vector-effect="non-scaling-stroke" transform="translate(521.8,468) scale(0.16,0.18) translate(0,-100)" d="M0 68H58C58 48 46 36 30 36C12 36 0 50 0 68C0 88 12 100 30 100C42 100 50 96 56 88"/></g>
<g fill="none" stroke="#000" stroke-width="1.8" stroke-linecap="square" stroke-linejoin="miter" stroke-miterlimit="2" shape-rendering="crispEdges" transform="translate(217,339.6) rotate(-90)"><path vector-effect="non-scaling-stroke" transform="translate(0.9,-16) scale(0.16)" d="M0 0H62L0 100H62"/><path vector-effect="non-scaling-stroke" transform="translate(17.2,-16) scale(0.16)" d="M0 56H83"/><path vector-effect="non-scaling-stroke" transform="translate(36,0) scale(0.16,0.18) translate(0,-100)" d="M56 47C51 40 43 36 34 36H26C10 36 0 49 0 68C0 87 10 100 26 100H34C43 100 51 96 56 89"/><path vector-effect="non-scaling-stroke" transform="translate(49.2,0) scale(0.16,0.18) translate(0,-100)" d="M30 36C48 36 60 48 60 68C60 88 48 100 30 100C12 100 0 88 0 68C0 48 12 36 30 36Z"/><path vector-effect="non-scaling-stroke" transform="translate(64.2,0) scale(0.16,0.18) translate(0,-100)" d="M30 36C48 36 60 48 60 68C60 88 48 100 30 100C12 100 0 88 0 68C0 48 12 36 30 36Z"/><path vector-effect="non-scaling-stroke" transform="translate(76.9,0) scale(0.16,0.18) translate(0,-100)" d="M0 36V100M0 62C6 44 18 36 30 36H38"/><path vector-effect="non-scaling-stroke" transform="translate(86.9,-16) scale(0.16)" d="M58 0V100M58 50C54 41 46 36 36 36H24C10 36 0 49 0 68C0 87 10 100 24 100H36C46 100 54 95 58 86"/><path vector-effect="non-scaling-stroke" transform="translate(101.4,-16) scale(0.16)" d="M0 36V100M0 0V5"/><path vector-effect="non-scaling-stroke" transform="translate(107.4,0) scale(0.16,0.18) translate(0,-100)" d="M0 36V100M0 52C5 41 14 36 25 36H32C43 36 50 44 50 55V100"/><path vector-effect="non-scaling-stroke" transform="translate(121.4,0) scale(0.16,0.18) translate(0,-100)" d="M60 36V100M60 50C56 41 48 36 38 36H24C10 36 0 49 0 68C0 87 10 100 24 100H38C48 100 56 95 60 86"/><path vector-effect="non-scaling-stroke" transform="translate(134.9,-16) scale(0.16)" d="M14 0V86C14 96 18 100 26 100H34M0 36H30"/><path vector-effect="non-scaling-stroke" transform="translate(145.9,0) scale(0.16,0.18) translate(0,-100)" d="M0 68H58C58 48 46 36 30 36C12 36 0 50 0 68C0 88 12 100 30 100C42 100 50 96 56 88"/></g>
</svg>
</body></html>
